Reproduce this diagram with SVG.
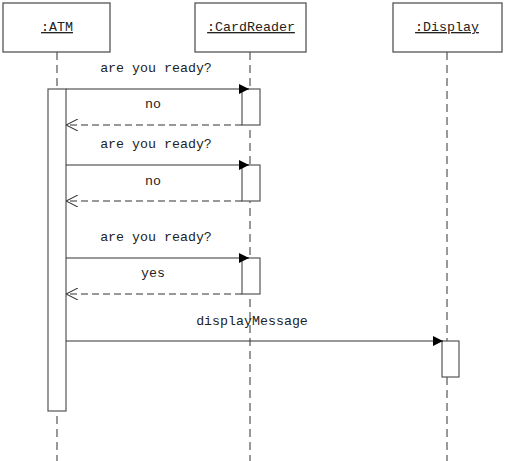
<svg xmlns="http://www.w3.org/2000/svg" width="505" height="461" viewBox="0 0 505 461">
  <style>
    .obj { fill: #fff; stroke: #555; stroke-width: 1.3; }
    .name { font-family: "Liberation Mono", "DejaVu Sans Mono", monospace; font-size: 13.3px; fill: #222; text-anchor: middle; text-decoration: underline; }
    .life { stroke: #555; stroke-width: 1.2; stroke-dasharray: 8 5; fill: none; }
    .act { fill: #fff; stroke: #555; stroke-width: 1.2; }
    .call { stroke: #333; stroke-width: 1.1; fill: none; marker-end: url(#solid); }
    .reply { stroke: #333; stroke-width: 1.1; stroke-dasharray: 7 4; fill: none; marker-end: url(#open); }
    .lbl { font-family: "Liberation Mono", "DejaVu Sans Mono", monospace; font-size: 13.3px; fill: #222; text-anchor: middle; }
  </style>
  <defs>
    <marker id="solid" viewBox="0 0 10 10" refX="10" refY="5" markerWidth="10" markerHeight="10" markerUnits="userSpaceOnUse" orient="auto">
      <path d="M0,0 L10,5 L0,10 Z" fill="#000"/>
    </marker>
    <marker id="open" viewBox="0 0 12 12" refX="12" refY="6" markerWidth="12" markerHeight="12" markerUnits="userSpaceOnUse" orient="auto">
      <path d="M0,0 L12,6 L0,12" fill="none" stroke="#333" stroke-width="1.1"/>
    </marker>
  </defs>

  <!-- lifelines -->
  <g id="lifelines">
    <line class="life" x1="57" y1="52" x2="57" y2="461"/>
    <line class="life" x1="250" y1="52" x2="250" y2="461"/>
    <line class="life" x1="447" y1="52" x2="447" y2="461"/>
  </g>

  <g id="atm">
    <rect class="obj" x="3" y="3" width="107" height="49"/>
    <text class="name" x="57" y="31">:ATM</text>
    <rect class="act" x="48" y="89" width="18" height="322"/>
  </g>

  <g id="cardreader">
    <rect class="obj" x="195" y="3" width="111" height="49"/>
    <text class="name" x="251" y="31">:CardReader</text>
    <rect class="act" x="242" y="89" width="18" height="36"/>
    <rect class="act" x="242" y="165" width="18" height="36"/>
    <rect class="act" x="242" y="258" width="18" height="36"/>
  </g>

  <g id="display">
    <rect class="obj" x="393" y="3" width="109" height="49"/>
    <text class="name" x="447" y="31">:Display</text>
    <rect class="act" x="442" y="341" width="17" height="36"/>
  </g>

  <!-- messages -->
  <g id="connectors">
    <line class="call" x1="66" y1="89" x2="249" y2="89"/>
    <line class="reply" x1="242" y1="125" x2="66" y2="125"/>
    <line class="call" x1="66" y1="165" x2="249" y2="165"/>
    <line class="reply" x1="242" y1="201" x2="66" y2="201"/>
    <line class="call" x1="66" y1="258" x2="249" y2="258"/>
    <line class="reply" x1="242" y1="294" x2="66" y2="294"/>
    <line class="call" x1="66" y1="341" x2="443" y2="341"/>
  </g>

  <g id="labels">
    <text class="lbl" x="156" y="72">are you ready?</text>
    <text class="lbl" x="153" y="108">no</text>
    <text class="lbl" x="156" y="148">are you ready?</text>
    <text class="lbl" x="153" y="185">no</text>
    <text class="lbl" x="156" y="241">are you ready?</text>
    <text class="lbl" x="153" y="277">yes</text>
    <text class="lbl" x="252" y="325">displayMessage</text>
  </g>
</svg>
